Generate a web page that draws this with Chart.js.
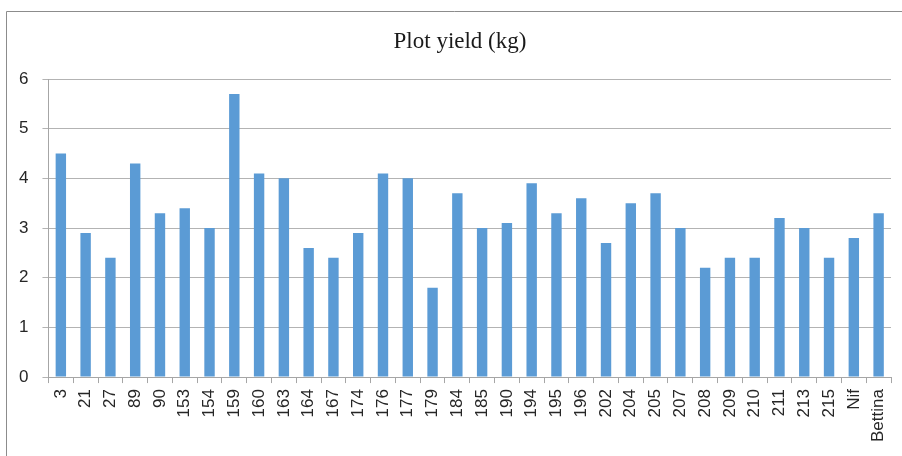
<!DOCTYPE html>
<html>
<head>
<meta charset="utf-8">
<script src="https://cdn.jsdelivr.net/npm/chart.js@4"></script>
<style>
  html, body { margin: 0; padding: 0; background: #fff; }
  #wrap { width: 902px; height: 456px; }
</style>
</head>
<body>
<div id="wrap"><canvas id="yieldChart"></canvas></div>
<script>
// Plot yield per variety
const varieties = ['3', '21', '27', '89', '90', '153', '154', '159', '160', '163', '164', '167',
    '174', '176', '177', '179', '184', '185', '190', '194', '195', '196', '202', '204', '205',
    '207', '208', '209', '210', '211', '213', '215', 'Nif', 'Bettina'];
const yieldKg = [4.5, 2.9, 2.4, 4.3, 3.3, 3.4, 3.0, 5.7, 4.1, 4.0, 2.6, 2.4,
    2.9, 4.1, 4.0, 1.8, 3.7, 3.0, 3.1, 3.9, 3.3, 3.6, 2.7, 3.5, 3.7,
    3.0, 2.2, 2.4, 2.4, 3.2, 3.0, 2.4, 2.8, 3.3];
const yMin = 0;
const yMax = 6;
const yStep = 1;
const chartTitle = 'Plot yield (kg)';

// outer frame of the chart object (only top and left edges are in view)
// and the title, centred on the frame rather than the canvas
const framePlugin = {
    id: 'frame',
    beforeDraw(chart) {
        const ctx = chart.ctx;
        ctx.save();
        ctx.strokeStyle = '#8c8c8c';
        ctx.lineWidth = 1;
        ctx.beginPath();
        ctx.moveTo(6.5, chart.height);
        ctx.lineTo(6.5, 11.5);
        ctx.lineTo(chart.width, 11.5);
        ctx.stroke();

        ctx.fillStyle = '#1a1a1a';
        ctx.font = '23px "Liberation Serif", "Times New Roman", serif';
        ctx.textAlign = 'center';
        ctx.textBaseline = 'alphabetic';
        ctx.fillText(chartTitle, 460, 48);
        ctx.restore();
    }
};

const tickFont = { family: '"Liberation Sans", Arial, sans-serif', size: 17 };

new Chart(document.getElementById('yieldChart'), {
    type: 'bar',
    data: {
        labels: varieties,
        datasets: [{
            label: chartTitle,
            data: yieldKg,
            backgroundColor: '#5b9bd5',
            borderWidth: 0,
            categoryPercentage: 1,
            barPercentage: 0.42
        }]
    },
    options: {
        responsive: true,
        maintainAspectRatio: false,
        animation: false,
        layout: { padding: { left: 5, right: 11, top: 79, bottom: 8 } },
        plugins: {
            legend: { display: false },
            tooltip: { enabled: false },
            title: { display: false }
        },
        scales: {
            x: {
                // the last label sits inside its category, no extra room needed
                afterFit(scale) { scale.paddingRight = 0; },
                grid: {
                    display: true,
                    drawOnChartArea: false,
                    drawTicks: true,
                    tickLength: 6,
                    color: '#a6a6a6',
                    offset: true
                },
                border: { color: '#a6a6a6' },
                ticks: {
                    color: '#262626',
                    font: tickFont,
                    minRotation: 90,
                    maxRotation: 90,
                    autoSkip: false,
                    padding: 6
                }
            },
            y: {
                min: yMin,
                max: yMax,
                grid: { color: '#b3b3b3', tickLength: 6 },
                border: { color: '#a6a6a6' },
                ticks: {
                    stepSize: yStep,
                    color: '#262626',
                    font: tickFont,
                    padding: 14
                }
            }
        }
    },
    plugins: [framePlugin]
});
</script>
</body>
</html>
